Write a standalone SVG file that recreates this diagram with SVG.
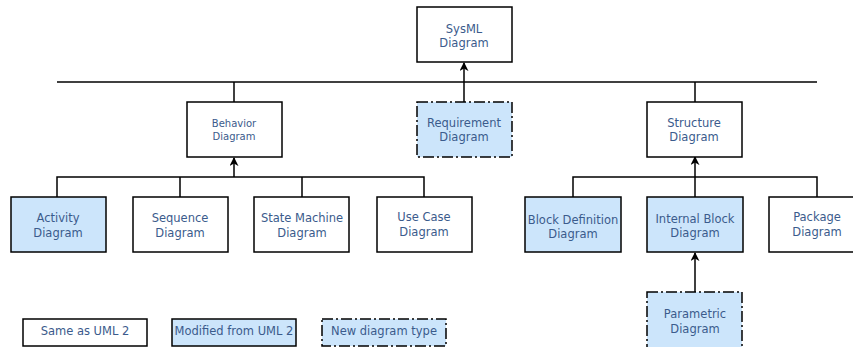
<svg xmlns="http://www.w3.org/2000/svg" width="853" height="347" viewBox="0 0 853 347">
<defs>
<style>
.b{fill:#fff;stroke:#000;stroke-width:1.5}
.m{fill:#cce5fb;stroke:#000;stroke-width:1.5}
.n{fill:#cce5fb;stroke:#000;stroke-width:1.5;stroke-dasharray:11,3,2,3}
text{font-family:"DejaVu Sans",sans-serif;font-size:11.5px;fill:#3b5b8c;text-anchor:middle}
.s{font-size:10px}
.c{fill:none;stroke:#000;stroke-width:1.5}
</style>
<marker id="ah" viewBox="0 0 10 10" refX="9" refY="5" markerWidth="9" markerHeight="9" markerUnits="userSpaceOnUse" orient="auto">
<path d="M0,0 L10,5 L0,10 L3,5 Z" fill="#000"/>
</marker>
</defs>
<rect width="853" height="347" fill="#fff"/>
<g id="connectors">
<path class="c" d="M57,82 H817"/>
<path class="c" d="M464,102 V63" marker-end="url(#ah)"/>
<path class="c" d="M234,82 V102"/>
<path class="c" d="M695,82 V103"/>
<path class="c" d="M57,197 V177 H424 V197 M180,177 V197 M302,177 V197"/>
<path class="c" d="M234,177 V158" marker-end="url(#ah)"/>
<path class="c" d="M573,197 V177 H817 V197"/>
<path class="c" d="M695,197 V177"/>
<path class="c" d="M695,177 V157" marker-end="url(#ah)"/>
<path class="c" d="M695,292 V253" marker-end="url(#ah)"/>
</g>
<g id="sysml"><rect class="b" x="417" y="7" width="95" height="55"/><text x="464" y="33">SysML</text><text x="464" y="47">Diagram</text></g>
<g id="behavior"><rect class="b" x="187" y="102" width="95" height="55"/><text class="s" x="234" y="127">Behavior</text><text class="s" x="234" y="140">Diagram</text></g>
<g id="requirement"><rect class="n" x="417" y="102" width="95" height="55"/><text x="464" y="127">Requirement</text><text x="464" y="141">Diagram</text></g>
<g id="structure"><rect class="b" x="647" y="102" width="95" height="55"/><text x="694" y="127">Structure</text><text x="694" y="141">Diagram</text></g>
<g id="activity"><rect class="m" x="11" y="197" width="95" height="55"/><text x="58" y="222">Activity</text><text x="58" y="237">Diagram</text></g>
<g id="sequence"><rect class="b" x="133" y="197" width="95" height="55"/><text x="180" y="222">Sequence</text><text x="180" y="237">Diagram</text></g>
<g id="statemachine"><rect class="b" x="254" y="197" width="95" height="55"/><text x="302" y="222">State Machine</text><text x="302" y="237">Diagram</text></g>
<g id="usecase"><rect class="b" x="377" y="197" width="95" height="55"/><text x="424" y="221">Use Case</text><text x="424" y="236">Diagram</text></g>
<g id="blockdef"><rect class="m" x="525" y="197" width="96" height="55"/><text x="573" y="224">Block Definition</text><text x="573" y="238">Diagram</text></g>
<g id="internalblock"><rect class="m" x="647" y="197" width="96" height="55"/><text x="695" y="223">Internal Block</text><text x="695" y="237">Diagram</text></g>
<g id="package"><rect class="b" x="769" y="197" width="95" height="55"/><text x="817" y="221">Package</text><text x="817" y="236">Diagram</text></g>
<g id="parametric"><rect class="n" x="647" y="292" width="95" height="60"/><text x="695" y="318">Parametric</text><text x="695" y="333">Diagram</text></g>
<g id="legend-same"><rect class="b" x="23" y="319" width="124" height="27"/><text x="85" y="335">Same as UML 2</text></g>
<g id="legend-modified"><rect class="m" x="172" y="319" width="124" height="27"/><text x="234" y="335">Modified from UML 2</text></g>
<g id="legend-new"><rect class="n" x="322" y="319" width="124" height="27"/><text x="384" y="335">New diagram type</text></g>
</svg>
